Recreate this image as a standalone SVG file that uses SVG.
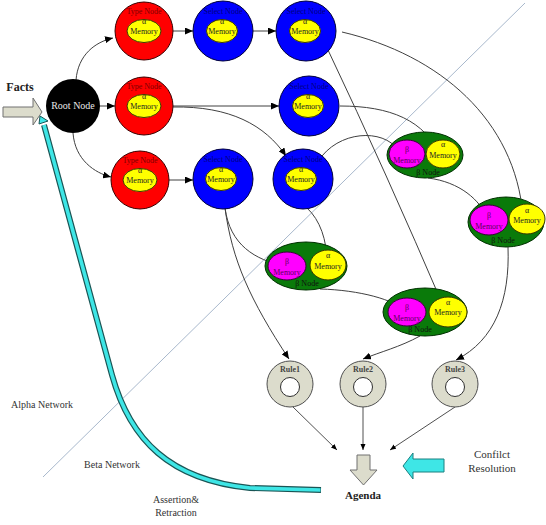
<svg xmlns="http://www.w3.org/2000/svg" width="546" height="525" viewBox="0 0 546 525">
<style>
text{font-family:"Liberation Serif","Times New Roman",serif;text-anchor:middle}
.red{fill:#ff0000;stroke:#3a0000;stroke-width:1}
.blue{fill:#0000ff;stroke:#00003a;stroke-width:1}
.yel{fill:#ffff00;stroke:#3a3a00;stroke-width:1}
.grn{fill:#0a7a0a;stroke:#003000;stroke-width:1}
.pink{fill:#ff00ff;stroke:#3a003a;stroke-width:1}
.rule{fill:#dcdccc;stroke:#505050;stroke-width:1}
.hole{fill:#ffffff;stroke:#303030;stroke-width:1}
.t8{font-size:8px}
.tn{fill:#800000}
.sn{fill:#000080}
.mem{fill:#222}
.pm{fill:#600060}
.bn{fill:#101010}
.lbl{font-size:10px;fill:#333}
.c{fill:none;stroke:#404040;stroke-width:1;marker-end:url(#ah)}
.r{fill:none;stroke:#505050;stroke-width:1;marker-end:url(#ahs)}
.blk{fill:#dcdccc;stroke:#707070;stroke-width:1}
</style>
<defs>
<marker id="ah" markerUnits="userSpaceOnUse" markerWidth="9" markerHeight="7" refX="8" refY="3.5" orient="auto"><path d="M0,0 L8,3.5 L0,7 z" fill="#000"/></marker>
<marker id="ahs" markerUnits="userSpaceOnUse" markerWidth="7" markerHeight="6" refX="6" refY="2.5" orient="auto"><path d="M0,0 L6,2.5 L0,5 z" fill="#000"/></marker>
</defs>
<rect width="546" height="525" fill="#fff"/>
<line x1="525" y1="3" x2="43" y2="477" stroke="#a8b8cc" stroke-width="1"/>
<g id="labels">
<text x="42" y="408" class="lbl">Alpha Network</text>
<text x="112" y="468" class="lbl">Beta Network</text>
<text x="176" y="503" class="lbl">Assertion&amp;</text>
<text x="176" y="516" class="lbl">Retraction</text>
</g>
<g id="facts">
<path class="blk" d="M3,107 L33,107 L33,98 L42,112 L33,125 L33,117 L3,117 z"/>
<text x="20" y="91" style="font-size:12px;font-weight:bold;fill:#222">Facts</text>
</g>
<g id="assertion">
<path d="M44,125 L112,375 C130,440 170,480 250,488 L321,490" fill="none" stroke="#1a5555" stroke-width="6"/>
<path d="M44,125 L112,375 C130,440 170,480 250,488 L320.5,490" fill="none" stroke="#3ee6e6" stroke-width="3.6"/>
<path d="M40,116 L48,121 L39,124 z" fill="#3ee6e6" stroke="#1a5555" stroke-width="1"/>
</g>
<g id="connectors">
<path class="c" d="M76,80 C78,55 95,42 113,38"/>
<path class="c" d="M99,106 L115,106"/>
<path class="c" d="M73,133 C75,160 95,173 111,177"/>
<path class="c" d="M173,31 L193,31"/>
<path class="c" d="M253,31 L276,31"/>
<path class="c" d="M173,106 L279,106"/>
<path class="c" d="M173,107 C230,106 265,125 286,156"/>
<path class="c" d="M169,180 L193,180"/>
<path class="c" d="M342,32 C440,55 515,120 523,216"/>
<path class="c" d="M328,50 Q385,170 445,310"/>
<path class="c" d="M340,106 C390,106 425,120 441,157"/>
<path class="c" d="M322,156 C345,128 390,130 400,154"/>
<path class="c" d="M225,208 C230,245 255,260 285,266"/>
<path class="c" d="M225,208 C232,260 250,300 289,359"/>
<path class="c" d="M307,208 C320,220 327,240 327,263"/>
<path class="c" d="M320,289 C360,290 395,300 405,311"/>
<path class="c" d="M428,178 C460,182 480,200 488,219"/>
<path class="c" d="M420,336 C400,347 380,352 363,359"/>
<path class="c" d="M508,247 C510,300 495,340 456,360"/>
<path class="r" d="M293,407 L337,450"/>
<path class="r" d="M363,407 L363,450"/>
<path class="r" d="M455,407 L390,450"/>
</g>
<g id="root">
<circle cx="73" cy="106" r="27" fill="#000"/>
<text x="73" y="109" style="font-size:10px;fill:#e8e8e8">Root Node</text>
</g>
<g id="type1">
<circle class="red" cx="144" cy="31" r="29"/><ellipse class="yel" cx="144" cy="31" rx="17" ry="11.5"/>
<text class="t8 tn" x="144" y="14">Type Node</text><text class="t8 mem" x="144" y="24">α</text><text class="t8 mem" x="144" y="34">Memory</text>
</g>
<g id="type2">
<circle class="red" cx="144" cy="106" r="29"/><ellipse class="yel" cx="144" cy="106" rx="17" ry="11.5"/>
<text class="t8 tn" x="144" y="89">Type Node</text><text class="t8 mem" x="144" y="99">α</text><text class="t8 mem" x="144" y="109">Memory</text>
</g>
<g id="type3">
<circle class="red" cx="140" cy="180" r="29"/><ellipse class="yel" cx="140" cy="180" rx="17" ry="11.5"/>
<text class="t8 tn" x="140" y="163">Type Node</text><text class="t8 mem" x="140" y="173">α</text><text class="t8 mem" x="140" y="183">Memory</text>
</g>
<g id="select1a">
<circle class="blue" cx="223" cy="31" r="30"/><ellipse class="yel" cx="222" cy="31" rx="15.5" ry="11.5"/>
<text class="t8 sn" x="223" y="14">Select Node</text><text class="t8 mem" x="222" y="24">α</text><text class="t8 mem" x="222" y="34">Memory</text>
</g>
<g id="select1b">
<circle class="blue" cx="306" cy="31" r="30"/><ellipse class="yel" cx="305" cy="31" rx="15.5" ry="11.5"/>
<text class="t8 sn" x="306" y="14">Select Node</text><text class="t8 mem" x="305" y="24">α</text><text class="t8 mem" x="305" y="34">Memory</text>
</g>
<g id="select2">
<circle class="blue" cx="309" cy="106" r="30"/><ellipse class="yel" cx="308" cy="106" rx="15.5" ry="11.5"/>
<text class="t8 sn" x="309" y="89">Select Node</text><text class="t8 mem" x="308" y="99">α</text><text class="t8 mem" x="308" y="109">Memory</text>
</g>
<g id="select3a">
<circle class="blue" cx="223" cy="179" r="30"/><ellipse class="yel" cx="221" cy="179" rx="15.5" ry="11.5"/>
<text class="t8 sn" x="223" y="162">Select Node</text><text class="t8 mem" x="221" y="172">α</text><text class="t8 mem" x="221" y="182">Memory</text>
</g>
<g id="select3b">
<circle class="blue" cx="303" cy="179" r="30"/><ellipse class="yel" cx="301" cy="179" rx="15.5" ry="11.5"/>
<text class="t8 sn" x="303" y="162">Select Node</text><text class="t8 mem" x="301" y="172">α</text><text class="t8 mem" x="301" y="182">Memory</text>
</g>
<g id="beta1">
<ellipse class="grn" cx="306" cy="266" rx="41" ry="24"/>
<ellipse class="pink" cx="287" cy="266" rx="19" ry="14"/><ellipse class="yel" cx="328" cy="265" rx="18" ry="15"/>
<text class="t8 pm" x="287" y="264">β</text><text class="t8 pm" x="287" y="275">Memory</text>
<text class="t8 mem" x="328" y="258">α</text><text class="t8 mem" x="328" y="269">Memory</text>
<text class="t8 bn" x="307" y="286">β Node</text>
</g>
<g id="beta2">
<ellipse class="grn" cx="425" cy="155" rx="38" ry="23"/>
<ellipse class="pink" cx="407" cy="154" rx="18" ry="14"/><ellipse class="yel" cx="443" cy="154" rx="17" ry="14"/>
<text class="t8 pm" x="407" y="152">β</text><text class="t8 pm" x="407" y="163">Memory</text>
<text class="t8 mem" x="443" y="147">α</text><text class="t8 mem" x="443" y="158">Memory</text>
<text class="t8 bn" x="428" y="175">β Node</text>
</g>
<g id="beta3">
<ellipse class="grn" cx="506" cy="222" rx="38" ry="25"/>
<ellipse class="pink" cx="489" cy="220" rx="19" ry="15"/><ellipse class="yel" cx="527" cy="219" rx="18" ry="15"/>
<text class="t8 pm" x="489" y="218">β</text><text class="t8 pm" x="489" y="229">Memory</text>
<text class="t8 mem" x="527" y="213">α</text><text class="t8 mem" x="527" y="223">Memory</text>
<text class="t8 bn" x="503" y="243">β Node</text>
</g>
<g id="beta4">
<ellipse class="grn" cx="425" cy="312" rx="42" ry="24"/>
<ellipse class="pink" cx="407" cy="312" rx="19" ry="14"/><ellipse class="yel" cx="448" cy="312" rx="19" ry="15"/>
<text class="t8 pm" x="407" y="310">β</text><text class="t8 pm" x="407" y="321">Memory</text>
<text class="t8 mem" x="448" y="305">α</text><text class="t8 mem" x="448" y="315">Memory</text>
<text class="t8 bn" x="420" y="332">β Node</text>
</g>
<g id="rule1">
<circle class="rule" cx="290" cy="384" r="23"/><circle class="hole" cx="290" cy="387" r="9.5"/>
<text x="290" y="372" style="font-size:8px;font-weight:bold;fill:#444">Rule1</text>
</g>
<g id="rule2">
<circle class="rule" cx="363" cy="384" r="23"/><circle class="hole" cx="363" cy="387" r="9.5"/>
<text x="363" y="372" style="font-size:8px;font-weight:bold;fill:#444">Rule2</text>
</g>
<g id="rule3">
<circle class="rule" cx="455" cy="384" r="23"/><circle class="hole" cx="455" cy="387" r="9.5"/>
<text x="455" y="372" style="font-size:8px;font-weight:bold;fill:#444">Rule3</text>
</g>
<g id="agenda">
<path class="blk" d="M357,455 L370,455 L370,470 L377,470 L363.5,485 L350,470 L357,470 z"/>
<text x="363" y="499" style="font-size:11px;font-weight:bold;fill:#222">Agenda</text>
</g>
<g id="conflict">
<path d="M444,459 L413,459 L413,453 L403,466 L413,479 L413,472 L444,472 z" fill="#3ee6e6" stroke="#1a8080" stroke-width="1"/>
<text x="492" y="458" style="font-size:11px;fill:#333">Confilct</text>
<text x="492" y="472" style="font-size:11px;fill:#333">Resolution</text>
</g>
</svg>
